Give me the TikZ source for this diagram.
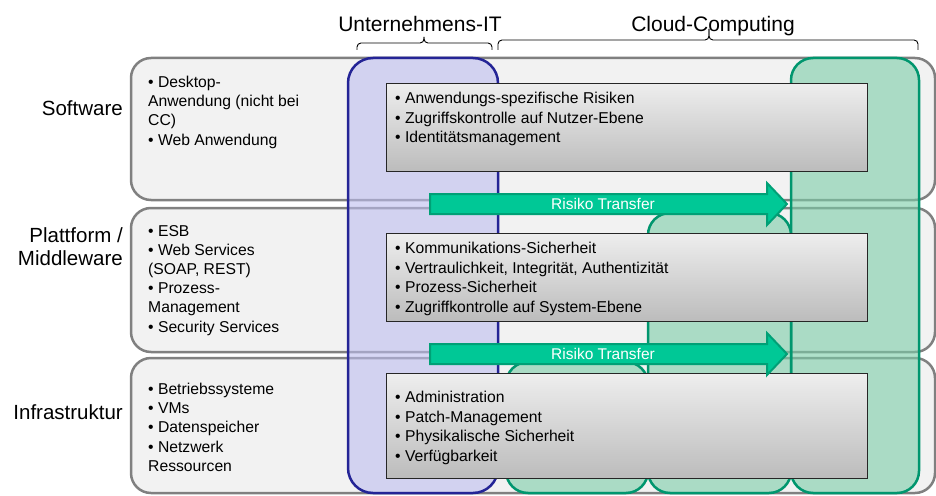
\documentclass[tikz,border=0pt]{standalone}
\usepackage{fontspec}
\setmainfont{Liberation Sans}
\definecolor{panelfill}{RGB}{242,242,242}
\definecolor{panelline}{RGB}{128,128,128}
\definecolor{bluefill}{RGB}{189,189,239}
\definecolor{blueline}{RGB}{36,36,150}
\definecolor{greenfill}{RGB}{122,205,167}
\definecolor{greenline}{RGB}{0,150,110}
\definecolor{arrowfill}{RGB}{0,200,150}
\definecolor{arrowline}{RGB}{0,160,118}
\definecolor{boxtop}{RGB}{238,238,238}
\definecolor{boxbot}{RGB}{188,188,188}
\tikzset{
  panel/.style={draw=panelline, line width=2.5pt, fill=panelfill, rounded corners=20pt},
  bluecol/.style={draw=blueline, line width=2.5pt, fill=bluefill, fill opacity=0.6, rounded corners=25pt},
  greencol/.style={draw=greenline, line width=2.5pt, fill=greenfill, fill opacity=0.6, rounded corners=22pt},
  riskbox/.style={draw=black!85, line width=1pt, top color=boxtop, bottom color=boxbot},
  transfer/.style={draw=arrowline, line width=2pt, fill=arrowfill},
  transfertxt/.style={text=white, inner sep=0pt, font=\fontsize{15.5}{18}\selectfont},
  lefttxt/.style={anchor=north west, inner sep=0pt, align=left, font=\fontsize{15.7}{19.2}\selectfont},
  boxtxt/.style={anchor=north west, inner sep=0pt, align=left, font=\fontsize{15.7}{19.6}\selectfont},
  layertxt/.style={inner sep=0pt, align=right, font=\fontsize{20.5}{22.5}\selectfont},
  hdr/.style={inner sep=0pt, font=\fontsize{21}{25}\selectfont},
  brace/.style={draw=black, line width=0.9pt, rounded corners=4pt}
}
\begin{document}
\begin{tikzpicture}[x=1pt,y=-1pt]
\useasboundingbox (0,0) rectangle (936,495);
\clip (0,0) rectangle (936,495);

% layer panels
\path[panel] (131,58) rectangle (935,200);
\path[panel] (131,208) rectangle (935,352);
\path[panel] (131,358) rectangle (935,493);

% columns
\path[bluecol] (348,58) rectangle (498,493);
\path[greencol] (791,58) rectangle (919,493);
\path[greencol] (648,213) rectangle (791,493);
\path[greencol] (506,362) rectangle (648,493);

% risk boxes
\path[riskbox] (386,83) rectangle (867,171);
\path[riskbox] (386,233) rectangle (867,321);
\path[riskbox] (386,373) rectangle (867,478);

% transfer arrows
\path[transfer] (430,194) -- (767,194) -- (767,183) -- (787,204) -- (767,225) -- (767,214) -- (430,214) -- cycle;
\path[transfer] (430,344) -- (767,344) -- (767,333) -- (787,354) -- (767,375) -- (767,364) -- (430,364) -- cycle;
\node[transfertxt] (rt1) at (603,204) {Risiko Transfer};
\node[transfertxt] (rt2) at (603,354) {Risiko Transfer};

% headers and braces
\node[hdr, anchor=base] (uit) at (420,32) {Unternehmens-IT};
\node[hdr, anchor=base] (cc) at (713,32) {Cloud-Computing};
\path[brace] (357,50) -- (357,43) -- (424,43) -- (424,37);
\path[brace] (424,37) -- (424,43) -- (492,43) -- (492,50);
\path[brace] (498,50) -- (498,40) -- (709,40) -- (709,29);
\path[brace] (709,29) -- (709,40) -- (918,40) -- (918,50);

% layer labels
\node[layertxt, anchor=base east] (lsw) at (123,115) {Software};
\node[layertxt, anchor=base east] (lpm) at (123,265) {Plattform /\\Middleware};
\node[layertxt, anchor=base east] (lin) at (123,419) {Infrastruktur};

% left panel texts
\node[lefttxt] (tsw) at (148,76) {• Desktop-\\Anwendung (nicht bei\\CC)\\• Web Anwendung};
\node[lefttxt] (tpm) at (148,225) {• ESB\\• Web Services\\(SOAP, REST)\\• Prozess-\\Management\\• Security Services};
\node[lefttxt] (tin) at (148,383) {• Betriebssysteme\\• VMs\\• Datenspeicher\\• Netzwerk\\Ressourcen};

% box texts
\node[boxtxt] (b1) at (395,92) {• Anwendungs-spezifische Risiken\\• Zugriffskontrolle auf Nutzer-Ebene\\• Identitätsmanagement};
\node[boxtxt] (b2) at (395,242) {• Kommunikations-Sicherheit\\• Vertraulichkeit, Integrität, Authentizität\\• Prozess-Sicherheit\\• Zugriffkontrolle auf System-Ebene};
\node[boxtxt] (b3) at (395,391) {• Administration\\• Patch-Management\\• Physikalische Sicherheit\\• Verfügbarkeit};
\end{tikzpicture}
\end{document}
